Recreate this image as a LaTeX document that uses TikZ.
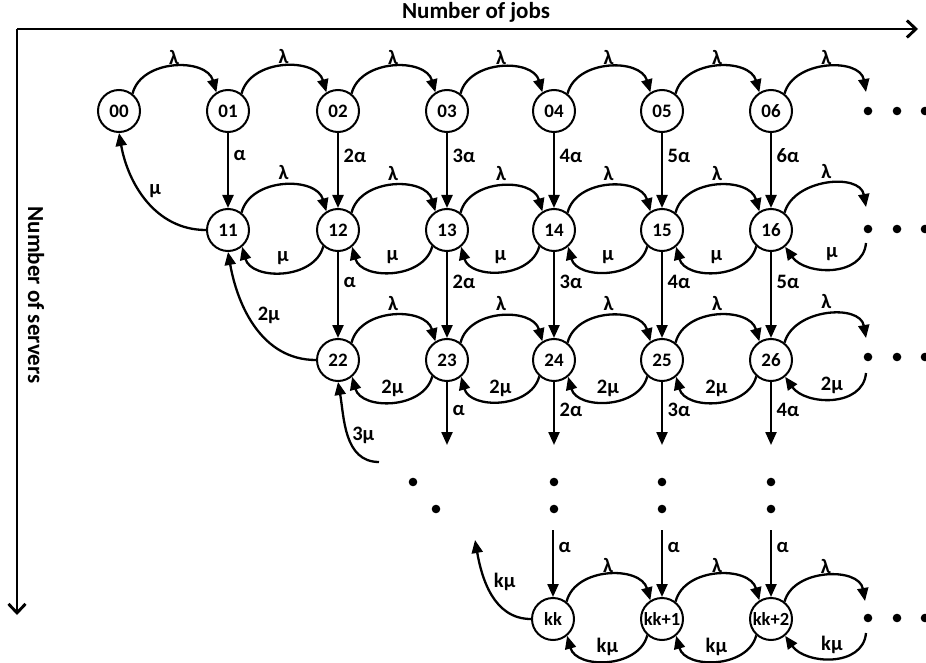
\documentclass[tikz,border=0pt]{standalone}
\usepackage{fontspec}
\setmainfont{Carlito}
\usetikzlibrary{arrows.meta}
\begin{document}
\begin{tikzpicture}[x=1pt,y=1pt,
  st/.style={circle,draw,line width=2pt,minimum size=42pt,inner sep=0pt,font=\bfseries\fontsize{19}{19}\selectfont},
  stsmall/.style={st,font=\bfseries\fontsize{18.5}{18.5}\selectfont},
  arr/.style={line width=2.3pt,-{Triangle[length=13pt,width=11pt]}},
  lab/.style={font=\bfseries\fontsize{20.5}{20.5}\selectfont,inner sep=1.5pt},
  axislabel/.style={font=\bfseries\fontsize{23}{23}\selectfont,inner sep=0pt},
  axisline/.style={line width=2.9pt,-{Straight Barb[length=9pt,width=17pt,line width=2.9pt]}},
  arcr/.style={bend left=75,looseness=1.1},
  dotmark/.style={fill=black}
]
\useasboundingbox (0,0) rectangle (926,-663);

% axes
\coordinate (origin) at (17,-29);
\coordinate (xend) at (918,-29);
\coordinate (yend) at (17,-615);
\draw[axisline] (origin) -- (xend);
\draw[axisline] (origin) -- (yend);
\node[axislabel] (tjobs) at (476,-12) {Number of jobs};
\node[axislabel,rotate=-90] (tserv) at (36,-295) {Number of servers};

% nodes
\node[st] (n00) at (119,-111) {00};
\foreach \i/\x in {1/228,2/338,3/447,4/554,5/662,6/771}
  \node[st] (n0\i) at (\x,-111) {0\i};
\foreach \i/\x in {1/228,2/338,3/447,4/554,5/662,6/771}
  \node[st] (n1\i) at (\x,-230) {1\i};
\foreach \i/\x in {2/338,3/447,4/554,5/662,6/771}
  \node[st] (n2\i) at (\x,-360) {2\i};
\node[stsmall] (kk) at (553,-619) {kk};
\node[stsmall] (kka) at (662,-619) {kk+1};
\node[stsmall] (kkb) at (771,-619) {kk+2};

% row 0 lambda arcs
\draw[arr] (n00.52) to[arcr] node[lab,above=0pt]{λ} (n01.122);
\foreach \i/\j in {1/2,2/3,3/4,4/5,5/6}
  \draw[arr] (n0\i.52) to[arcr] node[lab,above=0pt]{λ} (n0\j.122);
\coordinate (e0) at (866,-92);
\draw[arr] (n06.52) to[out=75,in=100,looseness=1.1] node[lab,above=0pt]{λ} (e0);

% row 1 arcs
\foreach \i/\j in {1/2,2/3,3/4,4/5,5/6}{
  \draw[arr] (n1\i.52) to[arcr] node[lab,above=3pt]{λ} (n1\j.122);
  \draw[arr] (n1\j.228) to[arcr] node[lab,above=5pt]{μ} (n1\i.-50);
}
\coordinate (e1) at (866,-207);
\coordinate (f1) at (866,-243);
\draw[arr] (n16.52) to[out=75,in=100,looseness=1.1] node[lab,above=3pt]{λ} (e1);
\draw[arr] (f1) to[out=-95,in=-55,looseness=1.1] node[lab,above=5pt]{μ} (n16.-50);

% row 2 arcs
\foreach \i/\j in {2/3,3/4,4/5,5/6}{
  \draw[arr] (n2\i.52) to[arcr] node[lab,above=3pt]{λ} (n2\j.122);
  \draw[arr] (n2\j.228) to[arcr] node[lab,above=2pt]{2μ} (n2\i.-50);
}
\coordinate (e2) at (866,-338);
\coordinate (f2) at (866,-373);
\draw[arr] (n26.52) to[out=75,in=100,looseness=1.1] node[lab,above=3pt]{λ} (e2);
\draw[arr] (f2) to[out=-95,in=-55,looseness=1.1] node[lab,above=2pt]{2μ} (n26.-50);

% bottom row arcs
\draw[arr] (kk.52) to[arcr] node[lab,above=0pt]{λ} (kka.122);
\draw[arr] (kka.52) to[arcr] node[lab,above=0pt]{λ} (kkb.122);
\draw[arr] (kka.228) to[arcr] node[lab,above=2pt]{kμ} (kk.-50);
\draw[arr] (kkb.228) to[arcr] node[lab,above=2pt]{kμ} (kka.-50);
\coordinate (e3) at (865,-601);
\coordinate (f3) at (866,-633);
\draw[arr] (kkb.52) to[out=75,in=100,looseness=1.1] node[lab,above=0pt]{λ} (e3);
\draw[arr] (f3) to[out=-95,in=-55,looseness=1.1] node[lab,above=2pt]{kμ} (kkb.-50);

% vertical arrows row 0 -> row 1
\foreach \i/\l in {1/α,2/2α,3/3α,4/4α,5/5α,6/6α}
  \draw[arr] (n0\i) -- node[lab,right=3pt,pos=0.3]{\l} (n1\i);
% row 1 -> row 2
\foreach \i/\l in {2/α,3/2α,4/3α,5/4α,6/5α}
  \draw[arr] (n1\i) -- node[lab,right=3pt,pos=0.35]{\l} (n2\i);
% row 2 downward
\foreach \i/\x/\l in {3/447/α,4/554/2α,5/662/3α,6/771/4α}{
  \coordinate (d\i) at (\x,-445);
  \draw[arr] (n2\i) -- node[lab,right=3pt,pos=0.45]{\l} (d\i);
}
% arrows into bottom row
\coordinate (ua) at (553,-530);
\coordinate (ub) at (662,-530);
\coordinate (uc) at (771,-530);
\draw[arr] (ua) -- node[lab,right=3pt,pos=0.26]{α} (kk);
\draw[arr] (ub) -- node[lab,right=3pt,pos=0.26]{α} (kka);
\draw[arr] (uc) -- node[lab,right=3pt,pos=0.26]{α} (kkb);

% return arcs on the left
\draw[arr] (n11.west) to[out=180,in=-80] node[lab,pos=0.5,anchor=south west]{μ} (n00.south);
\draw[arr] (n22.west) to[out=180,in=-80] node[lab,pos=0.5,anchor=south west]{2μ} (n11.south);
\coordinate (g3) at (379,-462);
\draw[arr] (g3) to[out=180,in=-80] node[lab,pos=0.5,anchor=west,xshift=2pt]{3μ} (n22.south);
\coordinate (gk) at (475,-540);
\draw[arr] (kk.west) to[out=180,in=-80] node[lab,pos=0.5,anchor=south west]{kμ} (gk);

% dots
\foreach \y in {-111,-229,-357,-618}
  \foreach \x in {868,897,925}
    \fill[dotmark] (\x,\y) circle (4.3);
\foreach \x in {554,662,771}
  \foreach \y in {-482,-509}
    \fill[dotmark] (\x,\y) circle (4.3);
\fill[dotmark] (413,-482) circle (4.3);
\fill[dotmark] (436,-509) circle (4.3);
\end{tikzpicture}
\end{document}
